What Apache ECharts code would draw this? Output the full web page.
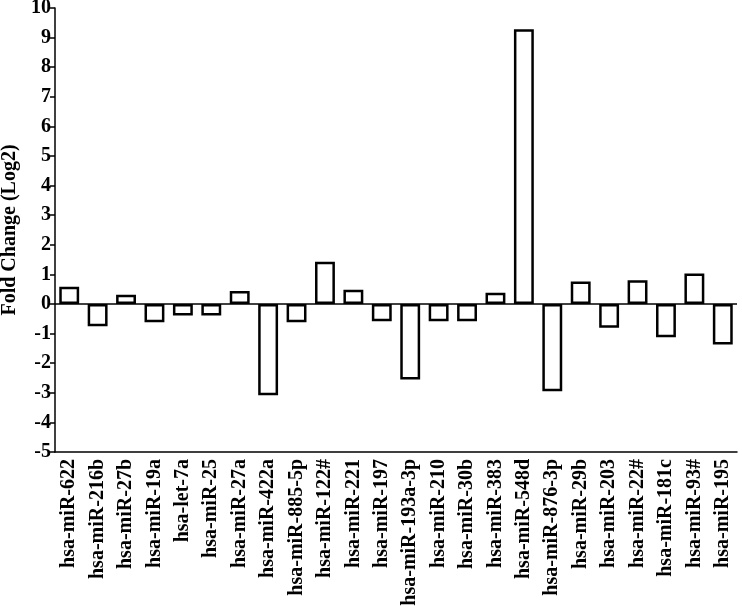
<!DOCTYPE html>
<html>
<head>
<meta charset="utf-8">
<script src="https://cdn.jsdelivr.net/npm/echarts@6/dist/echarts.min.js"></script>
<style>
  html, body { margin: 0; padding: 0; background: #fff; }
  #chart { width: 742px; height: 616px; }
</style>
</head>
<body>
<div id="chart"></div>
<script>
// miRNA names along the x axis
var mirnas = [
  'hsa-miR-622', 'hsa-miR-216b', 'hsa-miR-27b', 'hsa-miR-19a', 'hsa-let-7a',
  'hsa-miR-25', 'hsa-miR-27a', 'hsa-miR-422a', 'hsa-miR-885-5p', 'hsa-miR-122#',
  'hsa-miR-221', 'hsa-miR-197', 'hsa-miR-193a-3p', 'hsa-miR-210', 'hsa-miR-30b',
  'hsa-miR-383', 'hsa-miR-548d', 'hsa-miR-876-3p', 'hsa-miR-29b', 'hsa-miR-203',
  'hsa-miR-22#', 'hsa-miR-181c', 'hsa-miR-93#', 'hsa-miR-195'
]
// fold change (log2)
var foldChange = [
  0.58, -0.75, 0.31, -0.62, -0.39,
  -0.39, 0.44, -3.08, -0.62, 1.43,
  0.48, -0.58, -2.55, -0.58, -0.58,
  0.38, 9.28, -2.95, 0.76, -0.8,
  0.8, -1.12, 1.03, -1.37
]
var yMin = -5
var yMax = 10

var font = 'Liberation Serif, Times New Roman, serif'
var chart = echarts.init(document.getElementById('chart'))

chart.setOption({
  animation: false,
  grid: {
    left: 55,
    right: 5,
    top: 8,
    bottom: 164,
    containLabel: false,
    outerBoundsMode: 'none'
  },
  xAxis: {
    type: 'category',
    data: mirnas,
    axisLine: { onZero: false, lineStyle: { color: '#000', width: 1.5 } },
    axisTick: { alignWithLabel: true, length: 5, lineStyle: { color: '#000', width: 1.5 } },
    axisLabel: {
      rotate: 90,
      interval: 0,
      margin: 7,
      color: '#000',
      fontFamily: font,
      fontWeight: 'bold',
      fontSize: 20
    }
  },
  yAxis: {
    type: 'value',
    min: yMin,
    max: yMax,
    interval: 1,
    name: 'Fold Change (Log2)',
    nameLocation: 'middle',
    nameRotate: 90,
    nameGap: 33,
    nameTextStyle: {
      color: '#000',
      fontFamily: font,
      fontWeight: 'bold',
      fontSize: 20
    },
    splitLine: { show: false },
    axisLine: { show: true, lineStyle: { color: '#000', width: 1.5 } },
    axisTick: { show: true, length: 5, lineStyle: { color: '#000', width: 1.5 } },
    axisLabel: {
      margin: 4,
      color: '#000',
      fontFamily: font,
      fontWeight: 'bold',
      fontSize: 20
    }
  },
  series: [{
    type: 'bar',
    data: foldChange,
    barWidth: '70%',
    itemStyle: {
      color: '#fff',
      borderColor: '#000',
      borderWidth: 2.5
    },
    markLine: {
      silent: true,
      symbol: 'none',
      label: { show: false },
      lineStyle: { color: '#000', width: 1.5, type: 'solid' },
      data: [{ yAxis: 0 }]
    }
  }]
})
</script>
</body>
</html>
